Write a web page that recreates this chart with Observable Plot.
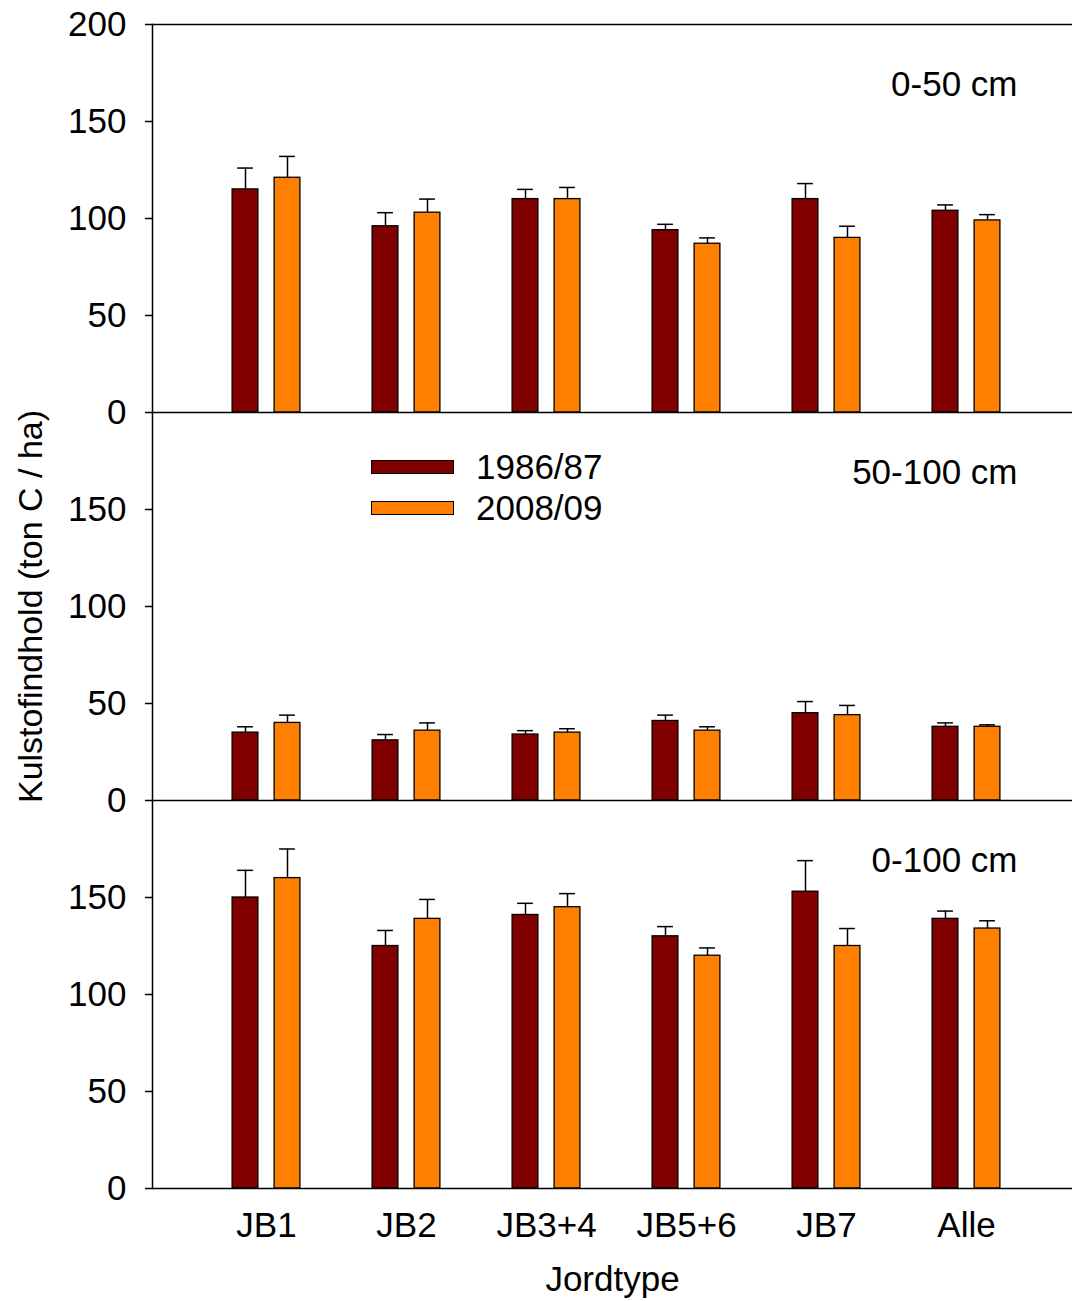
<!DOCTYPE html>
<html><head><meta charset="utf-8">
<script src="https://cdn.jsdelivr.net/npm/d3@7"></script>
<script src="https://cdn.jsdelivr.net/npm/@observablehq/plot@0.6"></script>
<style>
body{margin:0;background:#fff;}
#wrap{position:relative;width:1074px;height:1301px;font-family:"Liberation Sans",Arial,sans-serif;}
#legend{position:absolute;left:371px;top:446px;}
.row{display:flex;align-items:center;height:41px;}
.sw{width:81px;height:12px;border:1px solid #000;}
.lab{margin-left:22px;font-size:35px;line-height:1;color:#000;}
</style></head><body><div id="wrap"><div id="legend"></div></div>
<script>
// ---- data ----
const categories = ["JB1", "JB2", "JB3+4", "JB5+6", "JB7", "Alle"];
const depths = ["0-50 cm", "50-100 cm", "0-100 cm"];
const years = ["1986/87", "2008/09"];
const colors = ["#800000", "#ff8000"];
const yTicks = [0, 50, 100, 150];
const topTickValue = 200;

const val_0_50_1986 = [115, 96, 110, 94, 110, 104];
const err_0_50_1986 = [11, 7, 5, 3, 8, 3];
const val_0_50_2008 = [121, 103, 110, 87, 90, 99];
const err_0_50_2008 = [11, 7, 6, 3, 6, 3];

const val_50_100_1986 = [35, 31, 34, 41, 45, 38];
const err_50_100_1986 = [3, 3, 2, 3, 6, 2];
const val_50_100_2008 = [40, 36, 35, 36, 44, 38];
const err_50_100_2008 = [4, 4, 2, 2, 5, 1];

const val_0_100_1986 = [150, 125, 141, 130, 153, 139];
const err_0_100_1986 = [14, 8, 6, 5, 16, 4];
const val_0_100_2008 = [160, 139, 145, 120, 125, 134];
const err_0_100_2008 = [15, 10, 7, 4, 9, 4];

const yTitle = "Kulstofindhold (ton C / ha)";
const xTitle = "Jordtype";

// ---- build table ----
const series = [
  [depths[0], years[0], val_0_50_1986, err_0_50_1986],
  [depths[0], years[1], val_0_50_2008, err_0_50_2008],
  [depths[1], years[0], val_50_100_1986, err_50_100_1986],
  [depths[1], years[1], val_50_100_2008, err_50_100_2008],
  [depths[2], years[0], val_0_100_1986, err_0_100_1986],
  [depths[2], years[1], val_0_100_2008, err_0_100_2008]
];
const rows = [];
for (const [depth, year, vals, errs] of series) {
  categories.forEach((category, i) => rows.push({depth, year, category, value: vals[i], err: errs[i]}));
}
const topTick = [{depth: depths[0], value: topTickValue}];

const offsets = {[years[0]]: -21, [years[1]]: 21};
const barInset = 57.1, capInset = 62.1;
const FS = 35;

const marks = [];
for (const yr of years) {
  const sub = rows.filter(d => d.year === yr);
  marks.push(Plot.barY(sub, {x: "category", y: "value", fy: "depth", fill: "year", stroke: "#000", strokeWidth: 1.3,
    insetLeft: barInset, insetRight: barInset, dx: offsets[yr]}));
  marks.push(Plot.ruleX(sub, {x: "category", y1: "value", y2: d => d.value + d.err, fy: "depth", stroke: "#000", strokeWidth: 1.5, dx: offsets[yr]}));
  marks.push(Plot.tickY(sub, {x: "category", y: d => d.value + d.err, fy: "depth", stroke: "#000", strokeWidth: 1.5,
    insetLeft: capInset, insetRight: capInset, dx: offsets[yr]}));
}

const chart = Plot.plot({
  width: 1074,
  height: 1301,
  marginLeft: 152,
  marginRight: 2,
  marginTop: 24,
  marginBottom: 113,
  style: {fontFamily: "'Liberation Sans', Arial, sans-serif", fontSize: FS + "px", color: "#000", background: "#fff"},
  x: {type: "band", domain: categories, paddingInner: 0, paddingOuter: 0.281, align: 0.544},
  y: {domain: [0, 200]},
  fy: {domain: depths, padding: 0, axis: null},
  color: {domain: years, range: colors},
  marks: [
    ...marks,
    Plot.ruleY([0], {stroke: "#000", strokeWidth: 1.5}),
    Plot.ruleY(topTick, {y: "value", fy: "depth", stroke: "#000", strokeWidth: 1.5, insetLeft: -7}),
    Plot.frame({anchor: "left", stroke: "#000", strokeWidth: 1.5}),
    Plot.axisY(yTicks, {tickSize: 7, tickPadding: 19, label: null, strokeWidth: 1.5, fontSize: FS}),
    Plot.text(topTick, {y: "value", fy: "depth", text: d => String(d.value), frameAnchor: "left", textAnchor: "end", dx: -26, fontSize: FS, fill: "#000"}),
    Plot.axisX({tickSize: 0, tickPadding: 24, label: null, fontSize: FS}),
    Plot.text(depths, {fy: d => d, text: d => d, frameAnchor: "top-right", textAnchor: "end", lineAnchor: "bottom", dx: -55, dy: 71, fontSize: FS, fill: "#000"}),
    Plot.text([yTitle], {fy: () => depths[1], text: d => d, frameAnchor: "left", textAnchor: "middle", rotate: -90, dx: -121, fontSize: 34, fill: "#000"}),
    Plot.text([xTitle], {fy: () => depths[2], text: d => d, frameAnchor: "bottom", textAnchor: "middle", dy: 102, fontSize: FS, fill: "#000"})
  ]
});
document.getElementById("wrap").prepend(chart);

// legend (inside middle panel)
const legend = document.getElementById("legend");
years.forEach((yr, i) => {
  const row = document.createElement("div");
  row.className = "row";
  const sw = document.createElement("div");
  sw.className = "sw";
  sw.style.background = colors[i];
  const lab = document.createElement("span");
  lab.className = "lab";
  lab.textContent = yr;
  row.append(sw, lab);
  legend.append(row);
});
</script>
</body></html>
